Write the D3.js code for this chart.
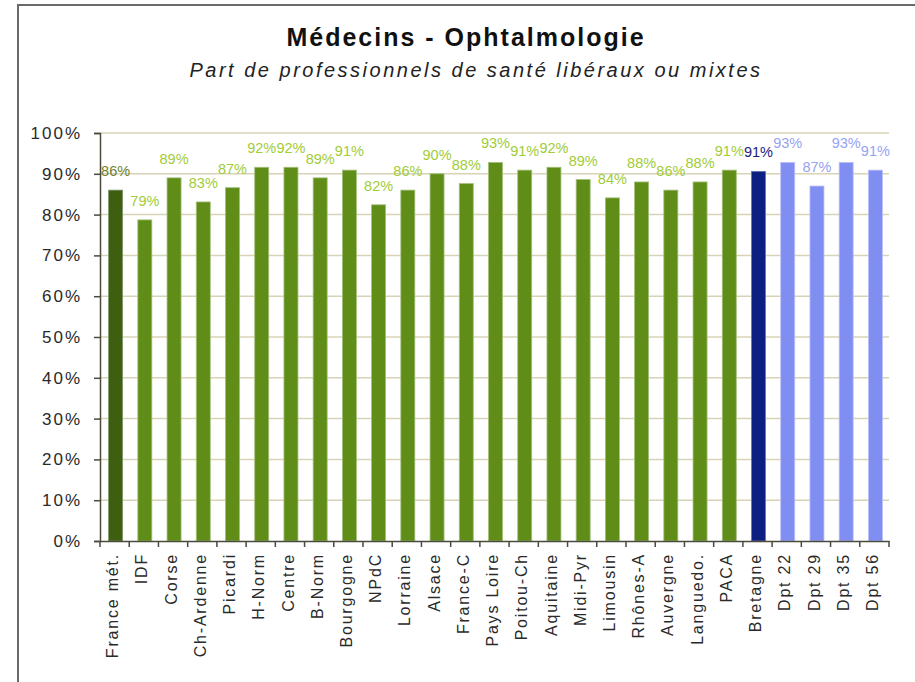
<!DOCTYPE html>
<html>
<head>
<meta charset="utf-8">
<script src="https://cdn.jsdelivr.net/npm/d3@7"></script>
<style>
  html, body { margin: 0; padding: 0; background: #fff; }
  svg { display: block; font-family: "Liberation Sans", Arial, sans-serif; }
</style>
</head>
<body>
<svg id="chart" width="915" height="682"></svg>
<script>
// Share of private / mixed-practice ophthalmologists, by territory (%)
const categories = ["France mét.", "IDF", "Corse", "Ch-Ardenne", "Picardi", "H-Norm", "Centre", "B-Norm",
  "Bourgogne", "NPdC", "Lorraine", "Alsace", "France-C", "Pays Loire", "Poitou-Ch", "Aquitaine",
  "Midi-Pyr", "Limousin", "Rhônes-A", "Auvergne", "Languedo.", "PACA", "Bretagne",
  "Dpt 22", "Dpt 29", "Dpt 35", "Dpt 56"];
const values = [86.0, 78.7, 89.0, 83.1, 86.6, 91.6, 91.6, 89.0,
  90.9, 82.4, 86.0, 90.0, 87.6, 92.8, 90.9, 91.6,
  88.6, 84.1, 88.0, 86.0, 88.0, 90.9, 90.6,
  92.8, 87.0, 92.8, 90.9];
// territory level of each category
const levels = ["national", "region", "region", "region", "region", "region", "region", "region",
  "region", "region", "region", "region", "region", "region", "region", "region",
  "region", "region", "region", "region", "region", "region", "bretagne",
  "departement", "departement", "departement", "departement"];
const yTicks = [0, 10, 20, 30, 40, 50, 60, 70, 80, 90, 100];

const barColor = { national: "#3e5e10", region: "#5f8d17", bretagne: "#0e1f82", departement: "#7f8ef0" };
const barEdge = { national: "#7f956a", region: "#a3c07a", bretagne: "#6a74b0", departement: "#b8c0f6" };
const labelColor = { national: "#6e7f2e", region: "#a2cc38", bretagne: "#1b2080", departement: "#97a2f2" };

const svg = d3.select("#chart");
const margin = { left: 100, right: 889, top: 133, bottom: 541 };

// outer frame
svg.append("rect")
  .attr("x", 18).attr("y", 5).attr("width", 940).attr("height", 720)
  .attr("fill", "none").attr("stroke", "#6a6a6a").attr("stroke-width", 2);

// titles
svg.append("text")
  .attr("x", 466).attr("y", 46)
  .attr("text-anchor", "middle")
  .attr("font-size", 25).attr("font-weight", "bold").attr("fill", "#111")
  .attr("letter-spacing", 2)
  .text("Médecins - Ophtalmologie");
svg.append("text")
  .attr("x", 476).attr("y", 77)
  .attr("text-anchor", "middle")
  .attr("font-size", 20).attr("font-style", "italic").attr("fill", "#222")
  .attr("letter-spacing", 2.5)
  .text("Part de professionnels de santé libéraux ou mixtes");

const x = d3.scaleBand().domain(categories).range([margin.left, margin.right]).paddingInner(0).paddingOuter(0);
const y = d3.scaleLinear().domain([0, 100]).range([margin.bottom, margin.top]);

// gridlines
svg.append("g")
  .selectAll("line")
  .data(yTicks.filter(t => t > 0))
  .join("line")
  .attr("x1", margin.left).attr("x2", margin.right)
  .attr("y1", d => y(d)).attr("y2", d => y(d))
  .attr("stroke", "#d8d3b6").attr("stroke-width", 1.5);

// y axis
const yAxis = svg.append("g")
  .attr("transform", `translate(${margin.left},0)`)
  .call(d3.axisLeft(y).tickValues(yTicks).tickFormat(d => d + "%").tickSize(6).tickPadding(12));
yAxis.select(".domain").attr("stroke", "#4a4a3e").attr("stroke-width", 1.5);
yAxis.selectAll(".tick line").attr("stroke", "#4a4a3e").attr("stroke-width", 1.5);
yAxis.selectAll(".tick text")
  .attr("font-size", 17).attr("fill", "#2a2a2a").attr("letter-spacing", 2)
  .attr("font-family", "'Liberation Sans', Arial, sans-serif");

// bars
const barW = 14;
svg.append("g")
  .selectAll("rect")
  .data(categories)
  .join("rect")
  .attr("x", (d) => x(d) + x.bandwidth() / 2 - barW / 2 + 1)
  .attr("width", barW)
  .attr("y", (d, i) => y(values[i]))
  .attr("height", (d, i) => y(0) - y(values[i]))
  .attr("fill", (d, i) => barColor[levels[i]])
  .attr("stroke", (d, i) => barEdge[levels[i]])
  .attr("stroke-width", 0.8);

// value labels
svg.append("g")
  .selectAll("text")
  .data(categories)
  .join("text")
  .attr("x", (d) => x(d) + x.bandwidth() / 2 + 1)
  .attr("y", (d, i) => y(values[i]) - 14)
  .attr("text-anchor", "middle")
  .attr("font-size", 14.5)
  .attr("fill", (d, i) => labelColor[levels[i]])
  .text((d, i) => Math.round(values[i]) + "%");

// x axis
const xAxis = svg.append("g")
  .attr("transform", `translate(0,${margin.bottom})`)
  .call(d3.axisBottom(x).tickSize(0).tickFormat(""));
xAxis.select(".domain").attr("stroke", "#4a4a3e").attr("stroke-width", 1.5);
xAxis.selectAll(".tick").remove();
// tick marks between categories
const bounds = categories.map(c => x(c)).concat([margin.right]);
xAxis.append("g")
  .selectAll("line")
  .data(bounds)
  .join("line")
  .attr("x1", d => d).attr("x2", d => d)
  .attr("y1", 0).attr("y2", 6)
  .attr("stroke", "#4a4a3e").attr("stroke-width", 1.5);

// category labels, rotated
svg.append("g")
  .selectAll("text")
  .data(categories)
  .join("text")
  .attr("transform", d => `translate(${x(d) + x.bandwidth() / 2 - 2},553) rotate(-90)`)
  .attr("dy", "0.35em")
  .attr("text-anchor", "end")
  .attr("font-size", 16)
  .attr("letter-spacing", 1.8)
  .attr("fill", "#2a2a2a")
  .text(d => d);
</script>
</body>
</html>
